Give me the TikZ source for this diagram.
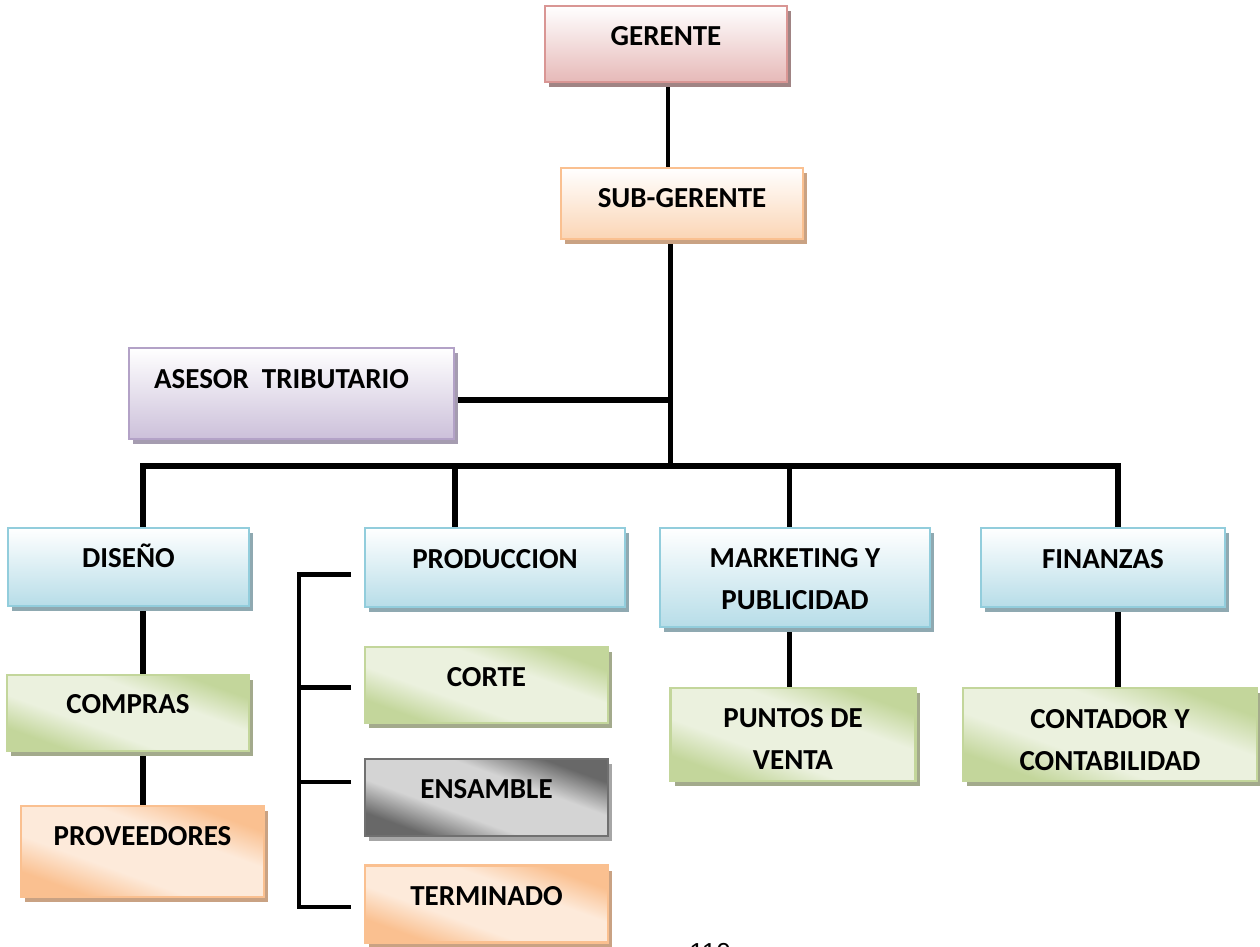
\documentclass[tikz,border=0pt]{standalone}
\usepackage{fontspec}
\setmainfont{Carlito}
\newfontfamily\pagefont{Liberation Sans}
\usetikzlibrary{shadows}
\pgfdeclarelayer{bg}
\pgfsetlayers{bg,main}
\definecolor{pinkB}{HTML}{D99694}
\definecolor{pinkF}{HTML}{E6B9B8}
\definecolor{pinkS}{HTML}{A08484}
\definecolor{orangeB}{HTML}{FAC090}
\definecolor{orangeF}{HTML}{FBD5B5}
\definecolor{orangeL}{HTML}{FDEADA}
\definecolor{orangeS}{HTML}{C9A283}
\definecolor{purpleB}{HTML}{B3A2C7}
\definecolor{purpleF}{HTML}{CCC0DA}
\definecolor{purpleS}{HTML}{A59CB0}
\definecolor{blueB}{HTML}{92CDDC}
\definecolor{blueF}{HTML}{B7DDE8}
\definecolor{blueS}{HTML}{8FA9B1}
\definecolor{greenB}{HTML}{C3D69B}
\definecolor{greenL}{HTML}{EBF1DE}
\definecolor{greenS}{HTML}{A3AA8C}
\definecolor{grayB}{HTML}{707070}
\definecolor{grayD}{HTML}{686868}
\definecolor{grayL}{HTML}{D4D4D4}
\definecolor{grayS}{HTML}{A6A6A6}
\pgfdeclarehorizontalshading{greendiag}{100bp}{color(0bp)=(greenB); color(27bp)=(greenB); color(40bp)=(greenL); color(60bp)=(greenL); color(73bp)=(greenB); color(100bp)=(greenB)}
\pgfdeclarehorizontalshading{orangediagsh}{100bp}{color(0bp)=(orangeB); color(27bp)=(orangeB); color(40bp)=(orangeL); color(60bp)=(orangeL); color(73bp)=(orangeB); color(100bp)=(orangeB)}
\pgfdeclarehorizontalshading{graydiag}{100bp}{color(0bp)=(grayD); color(27bp)=(grayD); color(40bp)=(grayL); color(60bp)=(grayL); color(73bp)=(grayD); color(100bp)=(grayD)}
\newcommand\lift[2]{\raisebox{#1}[0pt][0pt]{#2}}
\newcommand\twolines[3]{\lift{#1}{\begin{tabular}[b]{@{}c@{}}#2\\#3\end{tabular}}}
\tikzset{
  box/.style={rectangle, inner sep=0pt, line width=2.5pt, text=black,
    font={\fontsize{29}{42}\selectfont\bfseries}},
  shad/.style={general shadow={shadow xshift=4pt, shadow yshift=-5pt, fill=#1}},
  pinkbox/.style={box, draw=pinkB, top color=white, bottom color=pinkF, shad=pinkS},
  orangebox/.style={box, draw=orangeB, top color=white, bottom color=orangeF, shad=orangeS},
  purplebox/.style={box, draw=purpleB, top color=white, bottom color=purpleF, shad=purpleS},
  bluebox/.style={box, draw=blueB, top color=white, bottom color=blueF, shad=blueS},
  greenbox/.style={box, draw=greenB, shading=greendiag, shading angle=70, shad=greenS},
  orangediag/.style={box, draw=orangeB, shading=orangediagsh, shading angle=70, shad=orangeS},
  graybox/.style={box, draw=grayB, shading=graydiag, shading angle=70, shad=grayS},
  conn/.style={line width=5.5pt, black},
  connthin/.style={line width=4.5pt, black}
}
\begin{document}
\begin{tikzpicture}[x=1pt, y=-1pt]
\path[use as bounding box] (0,0) rectangle (1260,946);
\clip (0,0) rectangle (1260,946);

\node[pinkbox, minimum width=242pt, minimum height=76pt] (ger) at (666,44) {\lift{-1pt}{GERENTE}};
\node[orangebox, minimum width=242pt, minimum height=71pt] (sub) at (682,203.5) {\lift{-3.5pt}{SUB-GERENTE}};
\node[purplebox, minimum width=325pt, minimum height=91pt] (ase) at (291.5,393.5) {\lift{5.5pt}{ASESOR\ \ TRIBUTARIO\hspace*{20pt}}};

\node[bluebox, minimum width=241pt, minimum height=78pt] (dis) at (128.5,567) {\lift{-0.6pt}{DISEÑO}};
\node[bluebox, minimum width=260pt, minimum height=79pt] (pro) at (495,567.5) {\lift{-0.6pt}{PRODUCCION}};
\node[bluebox, minimum width=270pt, minimum height=99pt] (mkt) at (795,577.5) {\twolines{-31.6pt}{MARKETING Y}{PUBLICIDAD}};
\node[bluebox, minimum width=244pt, minimum height=79pt] (fin) at (1103,567.5) {\lift{-1pt}{FINANZAS}};

\node[greenbox, minimum width=242pt, minimum height=76pt] (com) at (128,713) {\lift{-0.4pt}{COMPRAS}};
\node[orangediag, minimum width=243pt, minimum height=91pt] (prv) at (142.5,851.5) {\lift{6pt}{PROVEEDORES}};

\node[greenbox, minimum width=243pt, minimum height=76pt] (cor) at (486.5,685) {\lift{-1.7pt}{CORTE}};
\node[graybox, minimum width=243pt, minimum height=77pt] (ens) at (486.5,797.5) {\lift{-1pt}{ENSAMBLE}};
\node[orangediag, minimum width=243pt, minimum height=77pt] (ter) at (486.5,904) {\lift{-1.1pt}{TERMINADO}};

\node[greenbox, minimum width=245pt, minimum height=93pt] (pun) at (793,734.5) {\twolines{-35.2pt}{PUNTOS DE}{VENTA}};
\node[greenbox, minimum width=294pt, minimum height=93pt] (con) at (1110,734.5) {\twolines{-36.2pt}{CONTADOR Y}{CONTABILIDAD}};

\node[font={\pagefont\fontsize{26}{30}\selectfont}, anchor=base, inner sep=0pt] (pg) at (710,961) {110};

\coordinate (jA) at (670.5,400);
\coordinate (jB) at (670.5,466);
\coordinate (b1) at (143,466);
\coordinate (b2) at (455,466);
\coordinate (b3) at (789.5,466);
\coordinate (b4) at (1118,466);
\coordinate (k1) at (351,574.5);
\coordinate (k2) at (351,687.5);
\coordinate (k3) at (351,782);
\coordinate (k4) at (351,907);
\coordinate (v1) at (299,574.5);
\coordinate (v4) at (299,907);

\begin{pgfonlayer}{bg}
\draw[connthin] ([xshift=2pt]ger.south) -- ([xshift=2pt]ger.south |- sub.north);
\draw[conn] (sub.south -| jA) -- (jB);
\draw[conn] (ase.east |- jA) -- (jA);
\draw[conn] (b1 |- dis.north) -- (b1) -- (b4) -- (b4 |- fin.north);
\draw[conn] (b2) -- (b2 |- pro.north);
\draw[conn] (b3) -- (b3 |- mkt.north);
\draw[conn] (b1 |- dis.south) -- (b1 |- com.north);
\draw[conn] (b1 |- com.south) -- (b1 |- prv.north);
\draw[conn] (b3 |- mkt.south) -- (b3 |- pun.north);
\draw[conn] (b4 |- fin.south) -- (b4 |- con.north);
\draw[connthin] (k1) -- (v1) -- (v4) -- (k4);
\draw[connthin] (k2) -- (k2 -| v1);
\draw[connthin] (k3) -- (k3 -| v1);
\end{pgfonlayer}
\end{tikzpicture}
\end{document}
